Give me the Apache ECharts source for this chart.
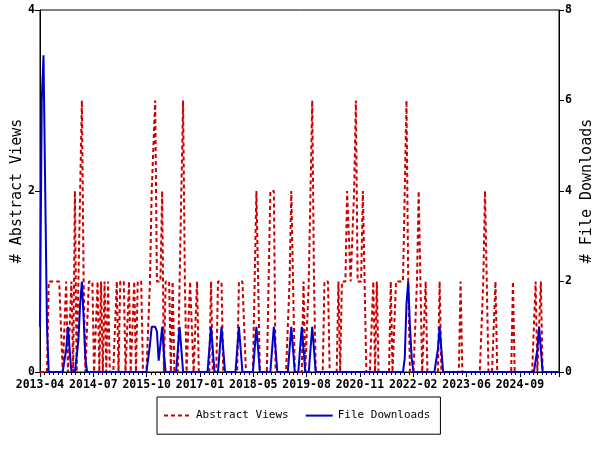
<!DOCTYPE html>
<html>
<head>
<meta charset="utf-8">
<script src="https://cdn.jsdelivr.net/npm/echarts@6/dist/echarts.min.js"></script>
<style>html,body{margin:0;padding:0;background:#fff;}#c{width:600px;height:450px;}</style>
</head>
<body>
<div id="c"></div>
<script>
// Samples every half month starting 2013-04
const startYear = 2013, startMonth = 4;
const monthsPerSample = 0.5;
// Abstract Views (left axis)
const abstractViews = [
  0,0,0,0,0,1,1,1,1,1,
  1,1,1,0,0,1,0,0,1,0,
  2,0,1,2,3,1,0,0,1,1,
  1,0,0,1,0,1,0,1,0,1,
  0,0,0,0,1,0,1,1,1,0,
  0,1,0,0,1,0,1,1,1,0,
  0,0,0,1,2,2,3,1,1,1,
  2,0,1,1,1,0,1,0,0,0,
  1,2,3,1,0,0,1,1,0,0,
  1,0,0,0,0,0,0,0,1,0,
  0,0,1,1,1,0,0,0,0,0,
  0,0,0,0,1,1,1,1,0,0,
  0,0,0,1,2,1,0,0,0,0,
  0,0,2,2,2,0,0,0,0,0,
  0,0,0,1,2,1,0,0,0,0,
  0,1,0,0,1,2,3,1,0,0,
  0,0,0,1,1,1,0,0,0,0,
  0,1,0,1,1,1,2,2,1,1,
  2,3,1,1,1,2,1,0,0,0,
  0,1,0,1,0,0,0,0,0,0,
  0,1,0,0,1,1,1,1,1,1,
  3,1,0,0,0,0,1,2,1,0,
  0,1,0,0,0,0,0,0,0,1,
  0,0,0,0,0,0,0,0,0,0,
  0,1,0,0,0,0,0,0,0,0,
  0,0,0,0,1,2,1,0,0,0,
  0,1,0,0,0,0,0,0,0,0,
  0,1,0,0,0,0,0,0,0,0,
  0,0,0,0,1,0,0,1,0,0,
  0,0,0,0,0,0,0,0
];
// File Downloads (right axis)
const fileDownloads = [
  1,6,7,4,1,0,0,0,0,0,
  0,0,0,0,0,0.5,1,0.5,0,0,
  0,0,0.7,1.5,2,1.2,0.3,0,0,0,
  0,0,0,0,0,0,0,0,0,0,
  0,0,0,0,0,0,0,0,0,0,
  0,0,0,0,0,0,0,0,0,0,
  0,0,0,0.6,1,1,1,0.9,0.25,0.6,
  1,0.4,0,0,0,0,0,0,0,0.5,
  1,0.5,0,0,0,0,0,0,0,0,
  0,0,0,0,0,0,0,0.5,1,0.5,
  0,0,0,0.5,1,0.5,0,0,0,0,
  0,0,0,0.5,1,0.5,0,0,0,0,
  0,0,0,0.5,1,0.5,0,0,0,0,
  0,0,0,0.5,1,0.5,0,0,0,0,
  0,0,0,0.5,1,0.5,0,0,0,0.5,
  1,0.5,0,0,0,0.5,1,0.5,0,0,
  0,0,0,0,0,0,0,0,0,0,
  0,0,0,0,0,0,0,0,0,0,
  0,0,0,0,0,0,0,0,0,0,
  0,0,0,0,0,0,0,0,0,0,
  0,0,0,0,0,0,0,0,0,0.3,
  1.5,2,1,0.3,0,0,0,0,0,0,
  0,0,0,0,0,0,0,0,0.5,1,
  0.5,0,0,0,0,0,0,0,0,0,
  0,0,0,0,0,0,0,0,0,0,
  0,0,0,0,0,0,0,0,0,0,
  0,0,0,0,0,0,0,0,0,0,
  0,0,0,0,0,0,0,0,0,0,
  0,0,0,0,0,0.5,1,0.5,0,0,
  0,0,0,0,0,0,0,0
];
const leftTicks = [0, 2, 4];
const rightTicks = [0, 2, 4, 6, 8];
const labelStepDays = 465;

const toPairs = arr => arr.map((v, i) => [i * monthsPerSample, v]);
const labelInterval = labelStepDays / 30.4375;
function monthLabel(v) {
  const m = Math.floor(v + 1e-6);
  const total = (startMonth - 1) + m;
  const y = startYear + Math.floor(total / 12);
  const mo = total % 12 + 1;
  return y + '-' + (mo < 10 ? '0' + mo : mo);
}
const mono = 'DejaVu Sans Mono';
const chart = echarts.init(document.getElementById('c'), null, {renderer: 'canvas'});
chart.setOption({
  animation: false,
  backgroundColor: '#fff',
  grid: {left: 40, right: 41, top: 10, bottom: 78, containLabel: false, outerBoundsMode: 'none',
         show: true, borderColor: '#000', borderWidth: 1, backgroundColor: 'transparent'},
  legend: {
    left: 157, top: 397,
    padding: [13, 10, 13, 6],
    borderColor: '#000', borderWidth: 1,
    itemWidth: 27, itemHeight: 14, itemGap: 16,
    itemStyle: {opacity: 0},
    textStyle: {fontFamily: mono, fontSize: 11, color: '#000'},
    data: ['Abstract Views', 'File Downloads']
  },
  xAxis: {
    type: 'value', min: 0, max: 148.7, interval: labelInterval,
    axisLine: {lineStyle: {color: '#000', width: 1}},
    axisTick: {length: 5, lineStyle: {color: '#000'}},
    minorTick: {show: true, splitNumber: 12, length: 3, lineStyle: {color: '#000'}},
    splitLine: {show: false},
    axisLabel: {formatter: monthLabel, showMaxLabel: false, fontFamily: mono, fontWeight: 'bold', fontSize: 11.5, color: '#000', margin: 7}
  },
  yAxis: [
    {
      type: 'value', min: leftTicks[0], max: leftTicks[leftTicks.length - 1], interval: leftTicks[1] - leftTicks[0],
      name: '# Abstract Views', nameLocation: 'middle', nameRotate: 90, nameGap: 15, nameMoveOverlap: false,
      nameTextStyle: {fontFamily: mono, fontSize: 15, color: '#000'},
      axisLine: {show: true, lineStyle: {color: '#000'}},
      axisTick: {show: true, length: 5, lineStyle: {color: '#000'}},
      splitLine: {show: false},
      axisLabel: {fontFamily: mono, fontWeight: 'bold', fontSize: 11.5, color: '#000', margin: 5}
    },
    {
      type: 'value', position: 'right', min: rightTicks[0], max: rightTicks[rightTicks.length - 1], interval: rightTicks[1] - rightTicks[0],
      name: '# File Downloads', nameLocation: 'middle', nameRotate: 90, nameGap: 21, nameMoveOverlap: false,
      nameTextStyle: {fontFamily: mono, fontSize: 15, color: '#000'},
      axisLine: {show: true, lineStyle: {color: '#000'}},
      axisTick: {show: true, length: 5, lineStyle: {color: '#000'}},
      splitLine: {show: false},
      axisLabel: {fontFamily: mono, fontWeight: 'bold', fontSize: 11.5, color: '#000', margin: 6}
    }
  ],
  series: [
    {
      name: 'Abstract Views', type: 'line', yAxisIndex: 0, data: toPairs(abstractViews),
      symbol: 'none', showSymbol: false, sampling: 'none',
      lineStyle: {color: '#cc0000', width: 2, type: [4, 3]},
      itemStyle: {color: '#cc0000'}
    },
    {
      name: 'File Downloads', type: 'line', yAxisIndex: 1, data: toPairs(fileDownloads),
      symbol: 'none', showSymbol: false, sampling: 'none',
      lineStyle: {color: '#0000cc', width: 2},
      itemStyle: {color: '#0000cc'}
    }
  ]
});
</script>
</body>
</html>
